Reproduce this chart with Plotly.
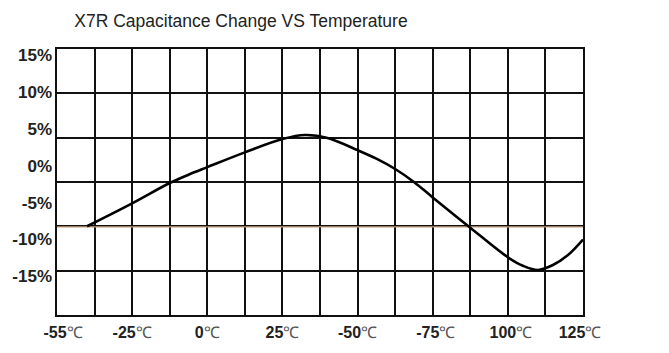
import plotly.graph_objects as go

# ---- data ----
temps = [-40, -25, -12.5, -6.25, 0, 12.5, 25, 32.5, 40, 50, 56.25, 62.5, 68.75,
         75, 87.5, 100, 105, 110, 115, 120, 125]
change = [-8.2, -5.1, -2.35, -1.22, -0.2, 1.8, 3.6, 4.15, 3.75, 2.1, 0.95, -0.45, -2.2,
          -4.3, -8.4, -12.4, -13.55, -14.12, -13.45, -12.1, -10.0]

ref_level = -8.3  # brown reference line level (%)

x_label_pos = [-48, -25, 0, 25, 50, 76, 101, 124]
x_label_num = ["-55", "-25", "0", "25", "-50", "-75", "100", "125"]
y_label_vals = [15, 10, 5, 0, -5, -10, -15]
y_label_text = ["15%", "10%", "5%", "0%", "-5%", "-10%", "-15%"]

x_range = [-50, 125]
y_range = [-20.22, 15.80]
x_grid_step = 12.5
y_grid_step = 6.003

FONT = "Liberation Sans, Arial, sans-serif"
INK = "#111111"

x_ticktext = [f"<b>{n}</b><span style='color:#555'>℃</span>" for n in x_label_num]
y_ticktext = [f"<b>{t}</b>" for t in y_label_text]

fig = go.Figure()

# brown reference line on the grid subplot
fig.add_trace(go.Scatter(
    x=x_range, y=[ref_level, ref_level], mode="lines",
    line=dict(color="#c49b7b", width=1.3), hoverinfo="skip", showlegend=False,
    xaxis="x", yaxis="y"))

# capacitance change curve on overlaid axes
fig.add_trace(go.Scatter(
    x=temps, y=change, mode="lines",
    line=dict(color="black", width=2.6, shape="spline", smoothing=1.0),
    hoverinfo="skip", showlegend=False, xaxis="x2", yaxis="y2"))

fig.update_layout(
    width=669, height=353,
    margin=dict(l=55, r=86, t=49, b=35),
    paper_bgcolor="white", plot_bgcolor="white",
    title=dict(text="X7R Capacitance Change VS Temperature",
               font=dict(family=FONT, size=17.5, color="#222"),
               x=241 / 669, xanchor="center", xref="container",
               y=1 - 21 / 353, yanchor="middle", yref="container"),
    xaxis=dict(range=x_range, tickmode="linear", tick0=x_range[0], dtick=x_grid_step,
               showgrid=True, gridcolor=INK, gridwidth=2, showticklabels=False,
               ticks="", zeroline=False, showline=True, mirror=True,
               linecolor=INK, linewidth=2),
    yaxis=dict(range=y_range, tickmode="linear", tick0=y_range[0], dtick=y_grid_step,
               showgrid=True, gridcolor=INK, gridwidth=2, showticklabels=False,
               ticks="", zeroline=False, showline=True, mirror=True,
               linecolor=INK, linewidth=2),
    xaxis2=dict(range=x_range, overlaying="x", anchor="y2", side="bottom",
                tickmode="array", tickvals=x_label_pos, ticktext=x_ticktext,
                showgrid=False, zeroline=False, showline=False, ticks="",
                ticklabelstandoff=6,
                tickfont=dict(family=FONT, size=16, color="#222")),
    yaxis2=dict(range=y_range, overlaying="y", anchor="x2", side="left",
                tickmode="array", tickvals=y_label_vals, ticktext=y_ticktext,
                showgrid=False, zeroline=False, showline=False, ticks="",
                ticklabelstandoff=4,
                tickfont=dict(family=FONT, size=17, color="#222")),
)

fig.write_html("out.html")
